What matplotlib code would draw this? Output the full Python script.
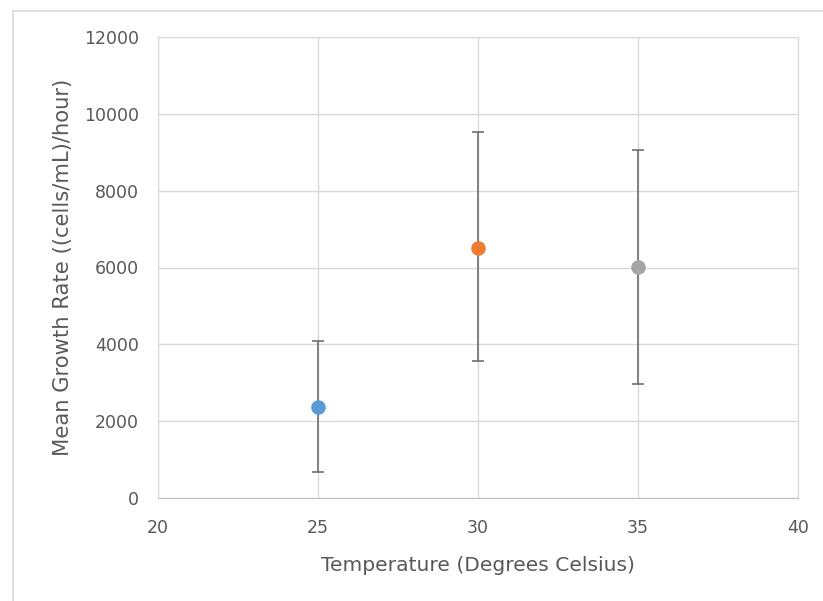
import matplotlib
matplotlib.use("Agg")
import matplotlib.pyplot as plt
from matplotlib.lines import Line2D

temps = [25, 30, 35]
means = [2380, 6510, 6010]
err_up = [1710, 3020, 3050]
err_down = [1700, 2940, 3040]
colors = ["#5B9BD5", "#ED7D31", "#A5A5A5"]
xticks = [20, 25, 30, 35, 40]
yticks = [0, 2000, 4000, 6000, 8000, 10000, 12000]

plt.rcParams['font.family'] = ['DejaVu Sans']
text_color = "#595959"
fs = 12.5

fig = plt.figure(figsize=(8.23, 6.01), dpi=100)
ax = fig.add_axes([158/823, (601-498)/601, (798-158)/823, (498-37)/601])

for x, m, u, d, c in zip(temps, means, err_up, err_down, colors):
    ax.errorbar([x], [m], yerr=[[d], [u]], fmt='o', color=c, ecolor="#6E6E6E",
                elinewidth=1.2, capsize=4.5, capthick=1.2, markersize=9.5, zorder=3)

ax.set_xlim(20, 40)
ax.set_ylim(0, 12000)
ax.set_xticks(xticks)
ax.set_yticks(yticks)
ax.grid(True, color="#D9D9D9", linewidth=1)
ax.set_axisbelow(True)
ax.tick_params(length=0, labelsize=fs, colors=text_color)
ax.tick_params(axis='x', pad=15)
ax.tick_params(axis='y', pad=13.5)
for s in ax.spines.values():
    s.set_color("#D9D9D9")
ax.spines['bottom'].set_color("#BFBFBF")

ax.set_xlabel("Temperature (Degrees Celsius)", fontsize=14.6, color=text_color, labelpad=14)
ax.set_ylabel("Mean Growth Rate ((cells/mL)/hour)", fontsize=15.2, color=text_color, labelpad=8)

# chart border
fig.add_artist(Line2D([13/823, 1.0], [1-10.5/601, 1-10.5/601], transform=fig.transFigure,
                      color="#D9D9D9", linewidth=1.2))
fig.add_artist(Line2D([13/823, 13/823], [0, 1-10.5/601], transform=fig.transFigure,
                      color="#D9D9D9", linewidth=1.2))

fig.savefig("out.png", dpi=100)
